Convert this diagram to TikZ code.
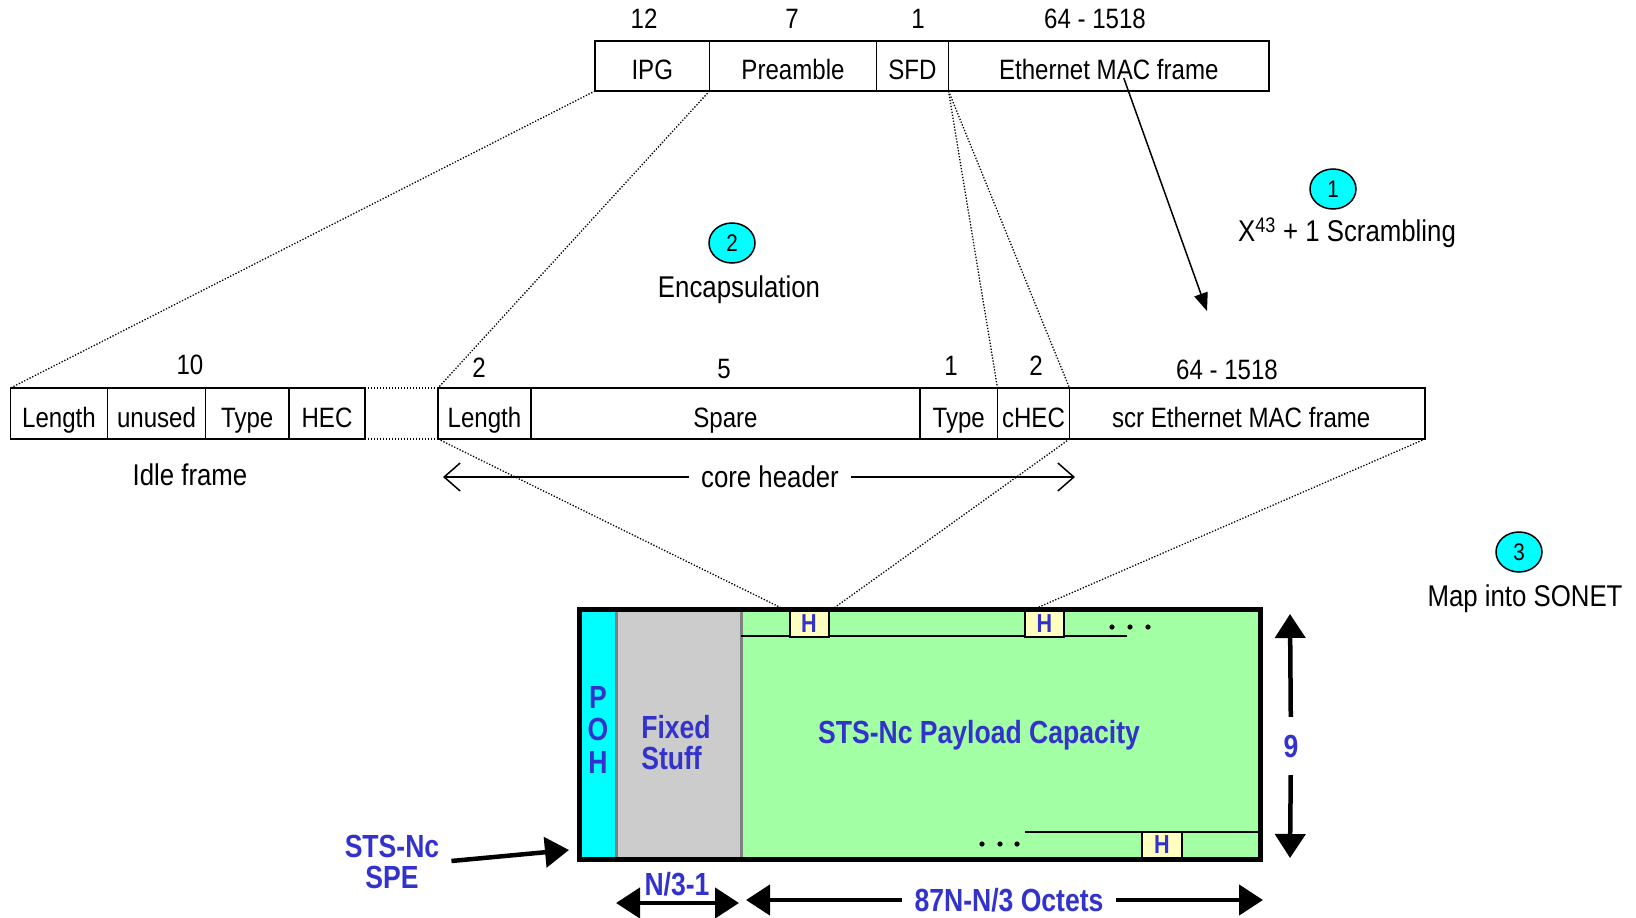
\documentclass[tikz,border=0pt]{standalone}
\usepackage{fontspec}
\setmainfont{Liberation Sans}[FakeStretch=0.86]
\newfontfamily\bluefont{Liberation Sans}[FakeStretch=0.83]
\usetikzlibrary{arrows.meta,shapes.geometric}
\definecolor{bluetxt}{RGB}{51,51,204}
\definecolor{cyanfill}{RGB}{0,255,255}
\definecolor{greenfill}{RGB}{163,255,163}
\definecolor{grayfill}{RGB}{204,204,204}
\definecolor{grayline}{RGB}{128,128,128}
\definecolor{hfill}{RGB}{255,255,192}
\begin{document}
\begin{tikzpicture}[x=1pt,y=-1pt,
  cell/.style={draw, line width=1.5pt, rectangle, inner sep=0pt, outer sep=0pt, minimum height=50pt, text height=27pt, text depth=0pt, font=\fontsize{28}{32}\selectfont},
  num/.style={font=\fontsize{28}{32}\selectfont, inner sep=0pt},
  lbl/.style={font=\fontsize{30}{34}\selectfont, inner sep=0pt},
  dotl/.style={line width=1.3pt, dash pattern=on 1.3pt off 1.7pt},
  badge/.style={ellipse, draw, line width=1.5pt, fill=cyanfill, minimum width=46pt, minimum height=40pt, inner sep=0pt, font=\fontsize{24}{28}\selectfont},
  blue/.style={text=bluetxt, font=\bluefont\bfseries\fontsize{32}{31}\selectfont, inner sep=0pt},
  hbox/.style={draw, line width=2pt, fill=hfill, rectangle, inner sep=0pt, outer sep=0pt, minimum width=39pt, minimum height=26pt, text=bluetxt, font=\bluefont\bfseries\fontsize{26}{28}\selectfont},
  bigarrow/.style={line width=4.5pt, -{Triangle[length=24pt,width=30pt]}},
  bigdarrow/.style={line width=4.5pt, {Triangle[length=24pt,width=30pt]}-{Triangle[length=24pt,width=30pt]}},
  barb/.style={line width=1.5pt, -{Straight Barb[length=16pt,width=28pt]}},
]
\useasboundingbox (0,0) rectangle (1636,918);

% ---- top frame ----
\node[cell, minimum width=114.5pt] (ipg) at (652.25,66) {IPG};
\node[cell, minimum width=167pt] (pre) at (793,66) {Preamble};
\node[cell, minimum width=72pt] (sfd) at (912.5,66) {SFD};
\node[cell, minimum width=320.5pt] (emac) at (1108.75,66) {Ethernet MAC frame};
\node[num] at (644,19) {12};
\node[num] at (792,19) {7};
\node[num] at (918,19) {1};
\node[num] at (1095,19) {64 - 1518};

% ---- second row ----
\node[cell, minimum width=97pt, minimum height=51pt] (len1) at (59,413.5) {Length};
\node[cell, minimum width=98pt, minimum height=51pt] (unused) at (156.5,413.5) {unused};
\node[cell, minimum width=83.5pt, minimum height=51pt] (type1) at (247.25,413.5) {Type};
\node[cell, minimum width=76pt, minimum height=51pt] (hec) at (327,413.5) {HEC};
\node[cell, minimum width=93pt, minimum height=51pt] (len2) at (484.5,413.5) {Length};
\node[cell, minimum width=389pt, minimum height=51pt] (spare) at (725.5,413.5) {Spare};
\node[cell, minimum width=77.5pt, minimum height=51pt] (type2) at (958.75,413.5) {Type};
\node[cell, minimum width=72pt, minimum height=51pt] (chec) at (1033.5,413.5) {cHEC};
\node[cell, minimum width=355.5pt, minimum height=51pt] (scr) at (1247.25,413.5) {\hspace*{-12pt}scr Ethernet MAC frame};
\node[num] at (190,365) {10};
\node[num] at (479,368) {2};
\node[num] at (724,369) {5};
\node[num] at (951,366) {1};
\node[num] at (1036,366) {2};
\node[num] at (1227,370) {64 - 1518};
\node[lbl] (idle) at (190,475) {Idle frame};

\draw[dotl] (hec.north east) -- (len2.north west);
\draw[dotl] (hec.south east) -- (len2.south west);

% core header
\node[lbl, inner xsep=12pt] (core) at (770,477) {core header};
\coordinate (coreL) at (443,477);
\coordinate (coreR) at (1075,477);
\draw[barb] (core) -- (coreL);
\draw[barb] (core) -- (coreR);

% ---- badges ----
\node[badge] (b1) at (1333,189) {1};
\node[lbl] (scramble) at (1347,233) {X\textsuperscript{43} + 1 Scrambling};
\node[badge] (b2) at (732,243) {2};
\node[lbl] (encap) at (739,290) {Encapsulation};
\node[badge] (b3) at (1519,552) {3};
\node[lbl] (mapson) at (1525,599) {Map into SONET};

\coordinate (scrEnd) at (1207,311);
\draw[line width=1.5pt, -{Triangle[length=18pt,width=14pt]}] ([xshift=15pt,yshift=13pt]emac.south) -- (scrEnd);

% ---- SONET SPE ----
\fill[greenfill] (579,609) rectangle (1260,859);
\fill[cyanfill] (579,609) rectangle (616,859);
\fill[grayfill] (616,609) rectangle (741,859);
\draw[grayline, line width=3pt] (616,609) -- (616,859) (741,609) -- (741,859);
\draw[line width=2pt] (741,636) -- (1127,636);
\draw[line width=2pt] (1025,832) -- (1260,832);
\node[hbox] (h1) at (809,623.5) {H};
\node[hbox] (h2) at (1044.5,623.5) {H};
\node[hbox, minimum width=40pt] (h3) at (1162,845) {H};
\foreach \x in {1112,1130,1148} \fill (\x,627) circle (2.6pt);
\foreach \x in {982,1000,1017} \fill (\x,844) circle (2.6pt);
\node[draw, line width=5pt, minimum width=681pt, minimum height=250pt, inner sep=0pt, outer sep=0pt] (spe) at (919.5,734) {};

\node[blue] (p) at (598,697) {P};
\node[blue] (o) at (598,729) {O};
\node[blue] (hh) at (598,762) {H};
\node[blue, align=left] (fixed) at (676,743) {Fixed\\Stuff};
\node[blue] (payload) at (979,735) {STS-Nc Payload Capacity};

% dotted mapping lines
\draw[dotl] (ipg.south west) -- (len1.north west);
\draw[dotl] (pre.south west) -- (len2.north west);
\draw[dotl] (sfd.south east) -- (chec.north west);
\draw[dotl] (sfd.south east) -- (chec.north east);
\draw[dotl] (len2.south west) -- ([xshift=-3pt]h1.north west);
\draw[dotl] (chec.south east) -- ([xshift=2pt]h1.north east);
\draw[dotl] (scr.south east) -- ([xshift=6pt]h2.north west);

% 9 arrow
\node[blue, minimum height=58pt] (nine) at (1291,746) {9};
\coordinate (nineT) at (1290,614);
\coordinate (nineB) at (1290,858);
\draw[bigarrow] (nine) -- (nineT);
\draw[bigarrow] (nine) -- (nineB);

% SPE label
\node[blue, align=center] (spelbl) at (392,862) {STS-Nc\\SPE};
\coordinate (speTip) at (569,850);
\draw[bigarrow] ([xshift=12pt,yshift=1pt]spelbl.east) -- (speTip);

% bottom arrows
\coordinate (n3L) at (616,903);
\coordinate (n3R) at (739,903);
\draw[bigdarrow] (n3L) -- (n3R);
\node[blue] (n3) at (677,884) {N/3-1};
\node[blue, inner xsep=12pt] (oct) at (1009,900) {87N-N/3 Octets};
\coordinate (octL) at (746,900);
\coordinate (octR) at (1263,900);
\draw[bigarrow] (oct) -- (octL);
\draw[bigarrow] (oct) -- (octR);
\end{tikzpicture}
\end{document}
